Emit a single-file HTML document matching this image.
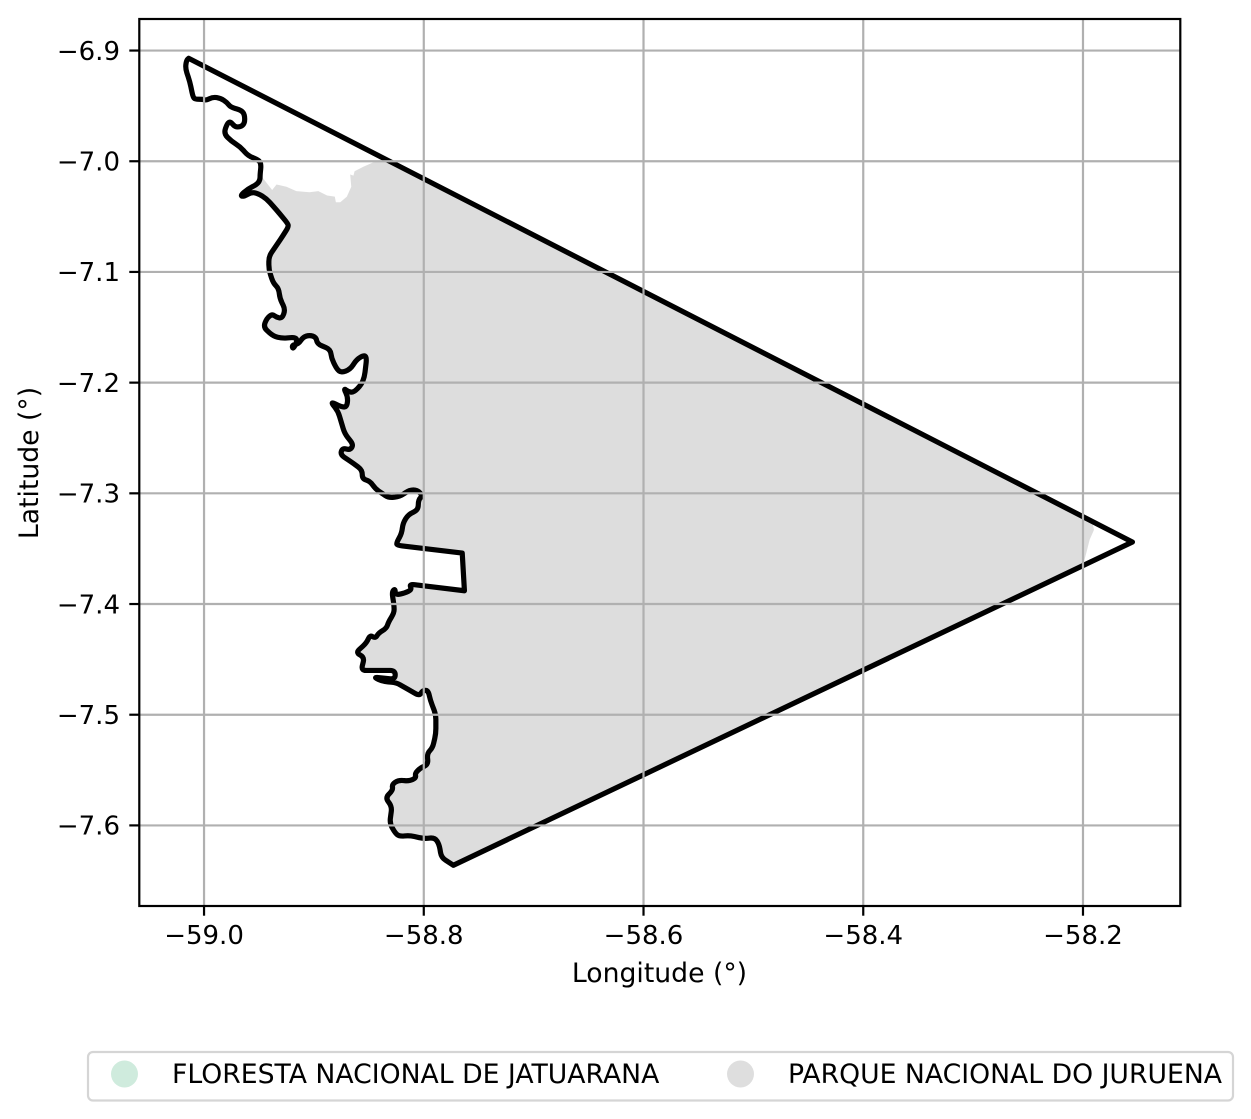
<!DOCTYPE html>
<html lang="en">
<head>
<meta charset="utf-8">
<title>Protected areas map</title>
<style>
html,body{margin:0;padding:0;background:#fff;width:1251px;height:1119px;overflow:hidden}
svg{display:block}
text{font-family:"DejaVu Sans","Liberation Sans",sans-serif;fill:#000}
</style>
</head>
<body>
<svg id="chart" xmlns="http://www.w3.org/2000/svg" width="1251" height="1119" viewBox="0 0 1251 1119"></svg>
<script>
const xTicks = [-59.0, -58.8, -58.6, -58.4, -58.2];
const xTickLabels = ["−59.0", "−58.8", "−58.6", "−58.4", "−58.2"];
const yTicks = [-6.9, -7.0, -7.1, -7.2, -7.3, -7.4, -7.5, -7.6];
const yTickLabels = ["−6.9", "−7.0", "−7.1", "−7.2", "−7.3", "−7.4", "−7.5", "−7.6"];
const xLimits = [-59.0592, -58.1117];
const yLimits = [-7.6728, -6.8715];

const boundaryLon = [-59.014,-59.016,-59.017,-59.013,-59.010,-59.008,-59.001,-58.998,-58.992,-58.985,-58.979,-58.976,-58.966,-58.963,-58.963,-58.967,-58.972,-58.976,-58.979,-58.982,-58.975,-58.967,-58.960,-58.950,-58.948,-58.949,-58.949,-58.952,-58.960,-58.967,-58.964,-58.957,-58.951,-58.943,-58.934,-58.924,-58.923,-58.928,-58.941,-58.941,-58.937,-58.932,-58.931,-58.926,-58.929,-58.934,-58.938,-58.943,-58.946,-58.937,-58.929,-58.917,-58.915,-58.919,-58.920,-58.914,-58.910,-58.904,-58.898,-58.897,-58.885,-58.884,-58.879,-58.875,-58.867,-58.861,-58.854,-58.852,-58.854,-58.857,-58.864,-58.869,-58.873,-58.869,-58.870,-58.875,-58.885,-58.878,-58.872,-58.864,-58.867,-58.874,-58.876,-58.864,-58.856,-58.856,-58.849,-58.844,-58.838,-58.832,-58.822,-58.813,-58.806,-58.801,-58.805,-58.805,-58.814,-58.819,-58.820,-58.825,-58.824,-58.765,-58.763,-58.813,-58.811,-58.817,-58.826,-58.826,-58.829,-58.827,-58.827,-58.832,-58.834,-58.841,-58.844,-58.849,-58.852,-58.862,-58.854,-58.857,-58.826,-58.826,-58.846,-58.837,-58.825,-58.818,-58.804,-58.801,-58.796,-58.794,-58.789,-58.789,-58.792,-58.797,-58.796,-58.803,-58.808,-58.807,-58.813,-58.823,-58.829,-58.828,-58.835,-58.829,-58.831,-58.826,-58.822,-58.813,-58.800,-58.790,-58.786,-58.784,-58.773,-58.155];
const boundaryLat = [-6.907,-6.909,-6.916,-6.928,-6.942,-6.944,-6.944,-6.945,-6.942,-6.943,-6.947,-6.951,-6.954,-6.958,-6.966,-6.969,-6.969,-6.964,-6.966,-6.975,-6.982,-6.987,-6.995,-6.999,-7.003,-7.012,-7.017,-7.021,-7.025,-7.031,-7.032,-7.028,-7.029,-7.034,-7.044,-7.056,-7.059,-7.067,-7.086,-7.098,-7.110,-7.115,-7.124,-7.134,-7.142,-7.141,-7.138,-7.142,-7.150,-7.158,-7.160,-7.159,-7.162,-7.170,-7.166,-7.165,-7.159,-7.157,-7.159,-7.165,-7.170,-7.178,-7.188,-7.191,-7.188,-7.179,-7.175,-7.178,-7.195,-7.202,-7.209,-7.208,-7.205,-7.213,-7.222,-7.222,-7.217,-7.226,-7.246,-7.256,-7.261,-7.259,-7.265,-7.273,-7.279,-7.287,-7.289,-7.296,-7.300,-7.304,-7.303,-7.297,-7.297,-7.302,-7.306,-7.315,-7.319,-7.327,-7.336,-7.345,-7.347,-7.354,-7.388,-7.382,-7.387,-7.390,-7.392,-7.386,-7.389,-7.402,-7.408,-7.416,-7.422,-7.426,-7.431,-7.428,-7.435,-7.444,-7.448,-7.460,-7.460,-7.468,-7.466,-7.470,-7.471,-7.475,-7.483,-7.478,-7.478,-7.487,-7.500,-7.517,-7.530,-7.535,-7.545,-7.548,-7.553,-7.557,-7.560,-7.559,-7.563,-7.568,-7.575,-7.583,-7.598,-7.607,-7.610,-7.609,-7.612,-7.611,-7.617,-7.629,-7.636,-7.344];
const fillStartIndex = 25;
const fillEndIndex = 153;
const fillEastLon = [-58.200,-58.197,-58.194,-58.190,-58.191,-58.200];
const fillEastLat = [-7.365,-7.354,-7.342,-7.333,-7.328,-7.320];
const fillNorthLon = [-58.835,-58.846,-58.855,-58.863,-58.864,-58.867,-58.866,-58.870,-58.876,-58.880,-58.881,-58.888,-58.896,-58.904,-58.916,-58.925,-58.934,-58.938];
const fillNorthLat = [-6.998,-7.001,-7.005,-7.009,-7.013,-7.012,-7.023,-7.032,-7.037,-7.037,-7.032,-7.031,-7.027,-7.028,-7.027,-7.023,-7.021,-7.026];
const legendLabels = ["FLORESTA NACIONAL DE JATUARANA", "PARQUE NACIONAL DO JURUENA"];
const legendColors = ["#cfebdd", "#dedede"];

const SVGNS = "http://www.w3.org/2000/svg";
const svg = document.getElementById("chart");
const plotLeft = 139, plotRight = 1180, plotTop = 19, plotBottom = 906;
function xScale(v) { return plotLeft + (v - xLimits[0]) / (xLimits[1] - xLimits[0]) * (plotRight - plotLeft); }
function yScale(v) { return plotBottom - (v - yLimits[0]) / (yLimits[1] - yLimits[0]) * (plotBottom - plotTop); }
function make(tag, attrs, parent) {
  const el = document.createElementNS(SVGNS, tag);
  for (const k in attrs) el.setAttribute(k, attrs[k]);
  (parent || svg).appendChild(el);
  return el;
}
function pts(lons, lats) {
  return lons.map((lon, i) => xScale(lon).toFixed(2) + "," + yScale(lats[i]).toFixed(2));
}
function smoothClosedPath(lons, lats) {
  const P = lons.map((lon, i) => [xScale(lon), yScale(lats[i])]);
  const n = P.length;
  const f = (p) => p[0].toFixed(2) + " " + p[1].toFixed(2);
  let d = "";
  for (let i = 0; i < n; i++) {
    const prev = P[(i - 1 + n) % n], cur = P[i], next = P[(i + 1) % n];
    const a = Math.hypot(prev[0] - cur[0], prev[1] - cur[1]);
    const b = Math.hypot(next[0] - cur[0], next[1] - cur[1]);
    if ((a > 30 && b > 30) || a > 100 || b > 100) {
      d += (i ? "L" : "M") + f(cur) + " ";
    } else {
      const r1 = Math.min(a / 2, 5), r2 = Math.min(b / 2, 5);
      const p1 = [cur[0] + (prev[0] - cur[0]) * r1 / a, cur[1] + (prev[1] - cur[1]) * r1 / a];
      const p2 = [cur[0] + (next[0] - cur[0]) * r2 / b, cur[1] + (next[1] - cur[1]) * r2 / b];
      d += (i ? "L" : "M") + f(p1) + " Q" + f(cur) + " " + f(p2) + " ";
    }
  }
  return d + "Z";
}

const bg = make("rect", {x: 0, y: 0, width: 1251, height: 1119, fill: "#ffffff"});



const fillPoints = pts(boundaryLon.slice(fillStartIndex, fillEndIndex), boundaryLat.slice(fillStartIndex, fillEndIndex))
  .concat(pts(fillEastLon, fillEastLat), pts(fillNorthLon, fillNorthLat));
const fillShape = make("polygon", {points: fillPoints.join(" "), fill: "#dddddd", stroke: "none"});



const outline = make("path", {d: smoothClosedPath(boundaryLon, boundaryLat), fill: "none", stroke: "#000000", "stroke-width": 5.2, "stroke-linejoin": "round"});



xTicks.forEach((t, i) => {
  const px = xScale(t);
  const grid = make("line", {x1: px, x2: px, y1: plotTop, y2: plotBottom, stroke: "#b0b0b0", "stroke-width": 2.2});
  
  
  const tick = make("line", {x1: px, x2: px, y1: plotBottom, y2: plotBottom + 9.7, stroke: "#000", "stroke-width": 2.2});
  
  
  const label = make("text", {x: px, y: 944, "text-anchor": "middle", "font-size": 26});
  label.textContent = xTickLabels[i];
  
  
});
yTicks.forEach((t, i) => {
  const py = yScale(t);
  const grid = make("line", {x1: plotLeft, x2: plotRight, y1: py, y2: py, stroke: "#b0b0b0", "stroke-width": 2.2});
  
  
  const tick = make("line", {x1: plotLeft - 9.7, x2: plotLeft, y1: py, y2: py, stroke: "#000", "stroke-width": 2.2});
  
  
  const label = make("text", {x: 120, y: py + 9.3, "text-anchor": "end", "font-size": 26});
  label.textContent = yTickLabels[i];
  
  
});

const frame = make("rect", {x: plotLeft + 0.3, y: plotTop, width: plotRight - plotLeft, height: plotBottom - plotTop, fill: "none", stroke: "#000", "stroke-width": 2.2});



const xTitle = make("text", {x: 659.5, y: 982, "text-anchor": "middle", "font-size": 26.67});
xTitle.textContent = "Longitude (°)";



const yTitle = make("text", {x: 0, y: 0, "text-anchor": "middle", "font-size": 26.67, transform: "translate(38 463) rotate(-90)"});
yTitle.textContent = "Latitude (°)";



const legendBox = make("rect", {x: 88, y: 1052, width: 1145, height: 48.5, rx: 5, ry: 5, fill: "#ffffff", stroke: "#d5d5d5", "stroke-width": 2.2});



const legendMarkerX = [124.5, 740.5];
const legendTextX = [172, 788];
legendLabels.forEach((name, i) => {
  const dot = make("circle", {cx: legendMarkerX[i], cy: 1074, r: 13.5, fill: legendColors[i]});
  
  
  const txt = make("text", {x: legendTextX[i], y: 1083, "font-size": 26.67});
  txt.textContent = name;
  
  
});
</script>
</body>
</html>
